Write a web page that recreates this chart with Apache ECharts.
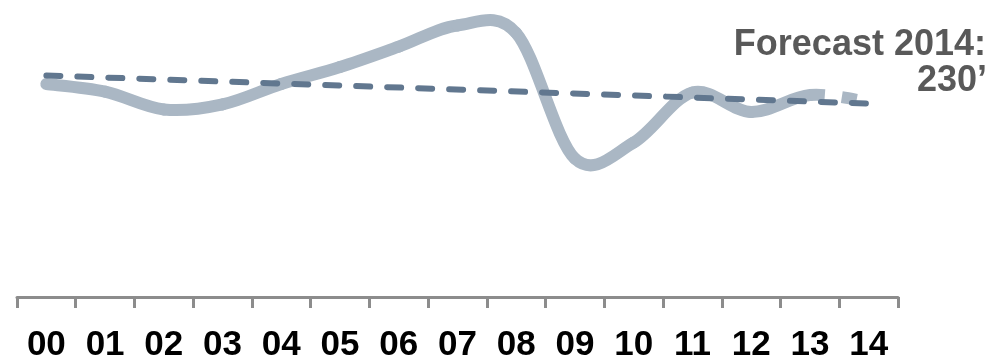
<!DOCTYPE html>
<html>
<head>
<meta charset="utf-8">
<script src="https://cdn.jsdelivr.net/npm/echarts@6/dist/echarts.min.js"></script>
<style>
  html, body { margin: 0; padding: 0; background: #fff; }
  #chart { width: 1006px; height: 363px; }
</style>
</head>
<body>
<div id="chart"></div>
<script>
// Years shown on the axis (two-digit labels)
const years = ['00', '01', '02', '03', '04', '05', '06', '07', '08', '09', '10', '11', '12', '13', '14'];

// Actual yearly values, 2000-2013 (thousands)
const actual = [251, 242, 221, 227, 251, 271, 295, 320, 311, 163, 182, 241, 218, 238];

// Forecast value for 2014 (thousands)
const forecast2014 = 230;

// Linear trend, start (2000) and end (2014) points
const trend = [261, null, null, null, null, null, null, null, null, null, null, null, null, null, 228];

const FONT = '"Liberation Sans", Arial, sans-serif';
const LINE_COLOR = '#aab7c4';

// Full value sequence used for the smooth curve: actual years plus the forecast year
const curveValues = actual.concat([forecast2014]);

// Cardinal (Catmull-Rom) Bezier segment between points i and i+1
function segment(pts, i) {
  const p0 = pts[Math.max(i - 1, 0)];
  const p1 = pts[i];
  const p2 = pts[i + 1];
  const p3 = pts[Math.min(i + 2, pts.length - 1)];
  return {
    x1: p1[0], y1: p1[1],
    cpx1: p1[0] + (p2[0] - p0[0]) / 6, cpy1: p1[1] + (p2[1] - p0[1]) / 6,
    cpx2: p2[0] - (p3[0] - p1[0]) / 6, cpy2: p2[1] - (p3[1] - p1[1]) / 6,
    x2: p2[0], y2: p2[1]
  };
}

function renderCurve(params, api) {
  if (params.dataIndex !== 0) return null;
  const pts = curveValues.map((v, i) => api.coord([i, v]));
  const children = [];
  for (let i = 0; i < pts.length - 1; i++) {
    const isForecast = i >= actual.length - 1;
    children.push({
      type: 'bezierCurve',
      shape: segment(pts, i),
      style: isForecast
        ? { stroke: LINE_COLOR, lineWidth: 12, fill: null, lineCap: 'butt', lineDash: [15, 17] }
        : { stroke: LINE_COLOR, lineWidth: 12, fill: null, lineCap: 'round' }
    });
  }
  return { type: 'group', children: children };
}

const chart = echarts.init(document.getElementById('chart'), null, { renderer: 'canvas' });

chart.setOption({
  animation: false,
  grid: { left: 17, right: 108, top: 0, bottom: 59, containLabel: false },
  xAxis: {
    type: 'category',
    data: years,
    boundaryGap: true,
    axisLine: { show: true, lineStyle: { color: '#8c8c8c', width: 3 } },
    axisTick: { show: true, length: 11, lineStyle: { color: '#8c8c8c', width: 3 } },
    axisLabel: {
      color: '#000',
      fontFamily: FONT,
      fontWeight: 'bold',
      fontSize: 35,
      margin: 31,
      interval: 0
    },
    splitLine: { show: false }
  },
  yAxis: {
    type: 'value',
    min: 0,
    max: 350,
    show: false
  },
  series: [
    {
      name: 'Actual',
      type: 'custom',
      coordinateSystem: 'cartesian2d',
      data: curveValues.map((v, i) => [i, v]),
      renderItem: renderCurve,
      z: 2
    },
    {
      name: 'Trend',
      type: 'line',
      data: trend,
      connectNulls: true,
      symbol: 'none',
      lineStyle: { color: '#61778f', width: 6, type: [14, 17], cap: 'round' },
      z: 3
    }
  ],
  graphic: [
    {
      type: 'text',
      x: 986,
      y: 27,
      style: {
        text: 'Forecast 2014:',
        font: 'bold 36px ' + FONT,
        fill: '#595959',
        align: 'right',
        verticalAlign: 'top'
      }
    },
    {
      type: 'text',
      x: 987,
      y: 63,
      style: {
        text: '230\u2019',
        font: 'bold 36px ' + FONT,
        fill: '#595959',
        align: 'right',
        verticalAlign: 'top'
      }
    }
  ]
});
</script>
</body>
</html>
